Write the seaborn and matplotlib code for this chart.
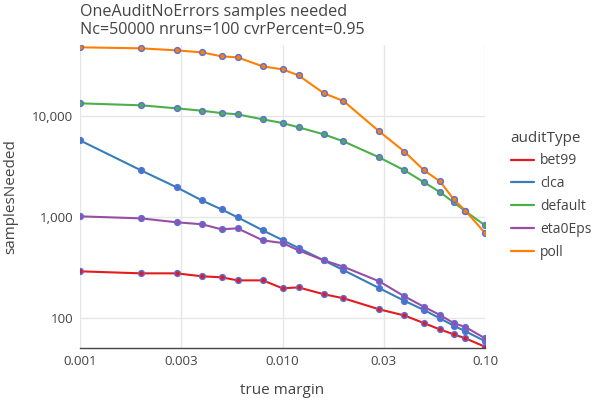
import numpy as np
import pandas as pd
import matplotlib
matplotlib.use("Agg")
import matplotlib.pyplot as plt
from matplotlib.lines import Line2D
import seaborn as sns

# --- datos ---
margins = [0.001, 0.002, 0.003, 0.004, 0.005, 0.006, 0.008, 0.010, 0.012,
           0.016, 0.020, 0.030, 0.040, 0.050, 0.060, 0.070, 0.080, 0.100]

bet99 = [290, 277, 277, 259, 253, 236, 236, 197, 201,
         172, 157, 122, 106, 89, 77, 69, 63, 52]
clca = [5740, 2900, 1970, 1460, 1190, 994, 738, 592, 493,
        372, 298, 198, 148, 120, 99, 84, 74, 59]
default = [13360, 12770, 11920, 11290, 10700, 10390, 9270, 8530, 7730,
           6590, 5610, 3900, 2900, 2210, 1760, 1400, 1140, 828]
eta0Eps = [1016, 970, 887, 848, 756, 773, 587, 553, 468,
           373, 322, 231, 164, 129, 107, 89, 81.5, 63]
poll = [47900, 46800, 44700, 42700, 39000, 38100, 31000, 29000, 25300,
        16800, 14100, 7060, 4440, 2900, 2250, 1500, 1155, 695]

audit_types = ["bet99", "clca", "default", "eta0Eps", "poll"]
series = [bet99, clca, default, eta0Eps, poll]

xticks = [10**-3, 10**-2.5, 10**-2, 10**-1.5, 10**-1]
xticklabels = ["0.001", "0.003", "0.010", "0.03", "0.10"]
yticks = [100, 1000, 10000]
yticklabels = ["100", "1,000", "10,000"]

df = pd.DataFrame({
    "margin": margins * len(audit_types),
    "samplesNeeded": [v for s in series for v in s],
    "auditType": [a for a in audit_types for _ in margins],
})

# --- grafico ---
sns.set_style("white")
plt.rcParams["font.family"] = ["Open Sans", "DejaVu Sans"]
txt = "#444444"

colors = ["#e41a1c", "#377eb8", "#4daf4a", "#984ea3", "#ff7f00"]
palette = dict(zip(audit_types, colors))

fig, ax = plt.subplots(figsize=(6, 4), dpi=100)
fig.subplots_adjust(left=80/600, right=485/600, bottom=1-348/400, top=1-45/400)

sns.lineplot(data=df, x="margin", y="samplesNeeded", hue="auditType",
             palette=palette, ax=ax, linewidth=1.5, legend=False,
             marker="o", markersize=4.2, markeredgecolor="#5b6fe0",
             markeredgewidth=1.0)
# relleno de marcadores con el color de la linea
for line, c in zip(ax.get_lines(), colors):
    line.set_markerfacecolor(c)

ax.set_xscale("log")
ax.set_yscale("log")
ax.set_xlim(0.001, 0.1)
ax.set_ylim(50.5, 50500)
ax.set_xticks(xticks)
ax.set_xticklabels(xticklabels)
ax.set_yticks(yticks)
ax.set_yticklabels(yticklabels)
ax.minorticks_off()
ax.tick_params(axis="both", colors=txt, labelsize=9.6, length=0, pad=5)
ax.grid(True, color="#e6e6e6", linewidth=1)
ax.set_axisbelow(True)

for s in ["top", "right", "left"]:
    ax.spines[s].set_visible(False)
ax.spines["bottom"].set_color("#444444")
ax.spines["bottom"].set_linewidth(1)

ax.set_xlabel("true margin", color=txt, fontsize=11, labelpad=11)
ax.set_ylabel("samplesNeeded", color=txt, fontsize=11, labelpad=10)

fig.text(80/600, 1-4/400, "OneAuditNoErrors samples needed",
         color=txt, fontsize=11.6, ha="left", va="top")
fig.text(80/600, 1-22/400, "Nc=50000 nruns=100 cvrPercent=0.95",
         color=txt, fontsize=11.6, ha="left", va="top")

handles = [Line2D([0], [0], color=c, lw=1.6) for c in colors]
leg = fig.legend(handles, audit_types, title="auditType",
                 loc="upper left", bbox_to_anchor=(498/600, 1-118/400),
                 frameon=False, fontsize=10, title_fontsize=11,
                 handlelength=1.7, handletextpad=0.45, labelspacing=0.57,
                 alignment="left")
for t in leg.get_texts():
    t.set_color(txt)
leg.get_title().set_color(txt)

fig.savefig("out.png", dpi=100)
